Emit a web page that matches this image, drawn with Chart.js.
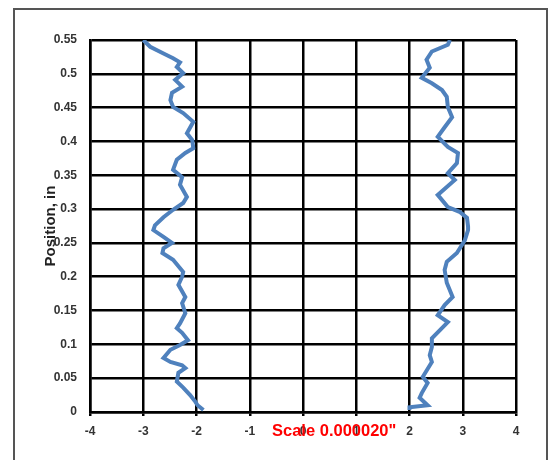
<!DOCTYPE html>
<html>
<head>
<meta charset="utf-8">
<script src="https://cdn.jsdelivr.net/npm/chart.js@4"></script>
<style>
body { margin: 0; background: #fff; }
#frame { position: absolute; left: 13px; top: 8px; width: 531px; height: 470px; border: 2px solid #555; }
#wrap { position: absolute; left: 0; top: 0; width: 548px; height: 460px; }
</style>
</head>
<body>
<div id="frame"></div>
<div id="wrap"><canvas id="chart"></canvas></div>
<script>
// left trace (deviation, position)
var leftX = [-3.0, -2.87, -2.62, -2.44, -2.31, -2.37, -2.25, -2.40, -2.27, -2.46, -2.49, -2.44, -2.25, -2.06,
    -2.18, -2.08, -2.06, -2.21, -2.37, -2.44, -2.27, -2.31, -2.18, -2.25, -2.44, -2.62, -2.78, -2.81, -2.62,
    -2.46, -2.62, -2.64, -2.44, -2.25, -2.27, -2.34, -2.21, -2.27, -2.21, -2.31, -2.37, -2.27, -2.16, -2.31,
    -2.49, -2.62, -2.49, -2.27, -2.21, -2.34, -2.37, -2.25, -2.12, -2.02, -1.98, -1.87];
var leftY = [0.55, 0.54, 0.53, 0.523, 0.517, 0.51, 0.501, 0.491, 0.481, 0.472, 0.461, 0.451, 0.442, 0.429,
    0.412, 0.402, 0.39, 0.383, 0.373, 0.358, 0.347, 0.336, 0.318, 0.309, 0.299, 0.288, 0.276, 0.269, 0.259,
    0.25, 0.242, 0.235, 0.225, 0.207, 0.2, 0.188, 0.17, 0.161, 0.146, 0.131, 0.124, 0.117, 0.106, 0.099,
    0.092, 0.08, 0.074, 0.069, 0.065, 0.058, 0.045, 0.036, 0.025, 0.015, 0.01, 0.003];

// right trace
var rightX = [2.76, 2.72, 2.42, 2.32, 2.38, 2.23, 2.42, 2.61, 2.70, 2.72, 2.80, 2.66, 2.53, 2.72, 2.91, 2.89,
    2.72, 2.85, 2.53, 2.72, 2.94, 3.08, 3.10, 3.10, 3.04, 2.89, 2.70, 2.66, 2.70, 2.81, 2.66, 2.53, 2.72,
    2.42, 2.42, 2.38, 2.42, 2.25, 2.34, 2.23, 2.19, 2.34, 2.0, 2.0];
var rightY = [0.55, 0.543, 0.533, 0.521, 0.509, 0.494, 0.486, 0.476, 0.466, 0.451, 0.436, 0.421, 0.407, 0.392,
    0.383, 0.368, 0.353, 0.343, 0.321, 0.303, 0.296, 0.287, 0.274, 0.269, 0.254, 0.235, 0.222, 0.21, 0.191,
    0.17, 0.158, 0.143, 0.133, 0.109, 0.096, 0.084, 0.074, 0.052, 0.043, 0.028, 0.021, 0.01, 0.007, 0.003];

var xMin = -4, xMax = 4, xStep = 1;
var yMin = 0, yMax = 0.55, yStep = 0.05;
var yTitle = 'Position, in';
var scaleNote = 'Scale 0.000020"';

function toPoints(xs, ys) {
    return xs.map(function (x, i) { return { x: x, y: ys[i] }; });
}

var lineStyle = {
    showLine: true,
    borderColor: '#4f81bd',
    borderWidth: 4,
    pointRadius: 0,
    tension: 0,
    fill: false
};

// red scale note sitting over the x tick labels
var notePlugin = {
    id: 'note',
    afterDraw: function (chart) {
        var ctx = chart.ctx;
        ctx.save();
        ctx.font = 'bold 16.5px "Liberation Sans", Arial, sans-serif';
        ctx.fillStyle = '#ff0000';
        ctx.textAlign = 'left';
        ctx.textBaseline = 'middle';
        ctx.fillText(scaleNote, 272, 431);
        ctx.restore();
    }
};

var tickFont = { family: '"Liberation Sans", Arial, sans-serif', size: 12, weight: 'bold' };

new Chart(document.getElementById('chart'), {
    type: 'scatter',
    data: {
        datasets: [
            Object.assign({ data: toPoints(leftX, leftY) }, lineStyle),
            Object.assign({ data: toPoints(rightX, rightY) }, lineStyle)
        ]
    },
    options: {
        responsive: true,
        maintainAspectRatio: false,
        animation: false,
        layout: { padding: { left: 0, top: 40, right: 32, bottom: 0 } },
        plugins: { legend: { display: false }, tooltip: { enabled: false } },
        scales: {
            x: {
                min: xMin, max: xMax,
                ticks: { stepSize: xStep, color: '#333', font: tickFont, padding: 8 },
                grid: { color: '#000', lineWidth: 2.5, tickLength: 4 },
                border: { color: '#000', width: 2.5 },
                afterFit: function (s) { s.height = 48; }
            },
            y: {
                min: yMin, max: yMax,
                ticks: {
                    stepSize: yStep, color: '#333', font: tickFont, padding: 13,
                    callback: function (v) { return String(Number(v.toFixed(2))); }
                },
                grid: { color: '#000', lineWidth: 2.5, drawTicks: false },
                border: { color: '#000', width: 2.5 },
                title: {
                    display: true, text: yTitle, color: '#222',
                    font: { family: '"Liberation Sans", Arial, sans-serif', size: 15, weight: 'bold' },
                    padding: { top: 42, bottom: 0 }
                },
                afterFit: function (s) { s.width = 90; }
            }
        }
    },
    plugins: [notePlugin]
});
</script>
</body>
</html>
